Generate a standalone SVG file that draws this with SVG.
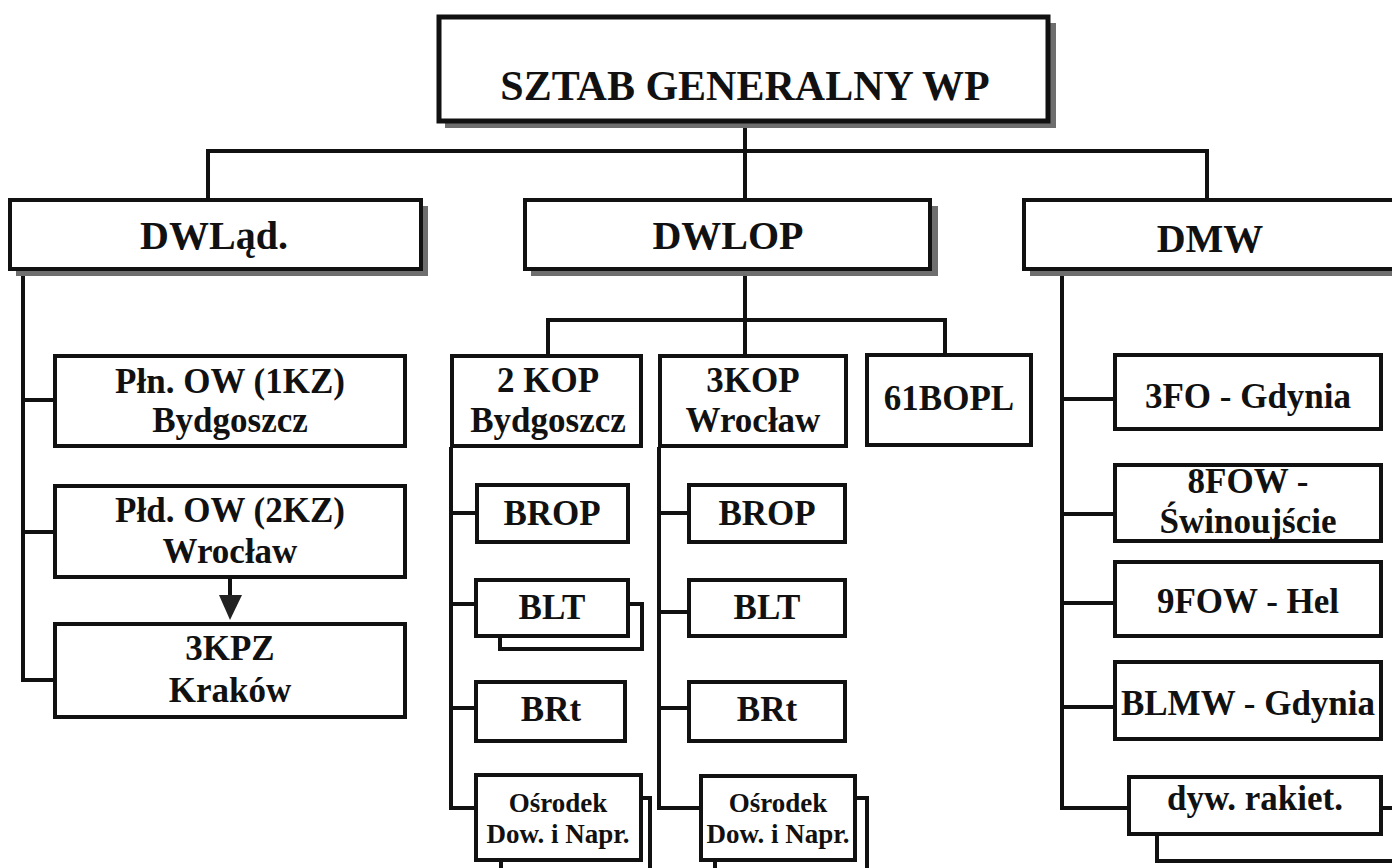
<svg xmlns="http://www.w3.org/2000/svg" width="1392" height="868" viewBox="0 0 1392 868">
<defs>
<style>
.bx{fill:#fff;stroke:#111;stroke-width:4}
.bxt{fill:#fff;stroke:#111;stroke-width:5}
.sh{fill:#6e6e6e}
.ln{fill:none;stroke:#111;stroke-width:4}
text{font-weight:bold;fill:#111;text-anchor:middle}
.t1{font-size:42px}
.t2{font-size:40px}
.t3{font-size:35px}
.t4{font-size:27px}
</style>
</defs>
<rect width="1392" height="868" fill="#fff"/>
<g id="connectors">
<path class="ln" d="M745,123 V198 M208,198 V151 H1207 V198"/>
<path class="ln" d="M23,270 V680 H53 M23,400 H53 M23,532 H53"/>
<path class="ln" d="M230,578 V597"/>
<polygon points="219,595 242,595 230,620" fill="#222"/>
<path class="ln" d="M745,270 V354 M548,354 V320 H945 V354"/>
<path class="ln" d="M451,447 V808 H474 M451,513 H475 M451,604 H474 M451,708 H474"/>
<path class="ln" d="M659,447 V808 H699 M659,513 H687 M659,612 H687 M659,708 H687"/>
<path class="ln" d="M1062,270 V808 H1127 M1062,399 H1113 M1062,514 H1113 M1062,603 H1113 M1062,707 H1113"/>
</g>
<g font-family="'Liberation Serif', 'Times New Roman', Tinos, 'DejaVu Serif', serif">
<g id="sztab">
<rect class="sh" x="445" y="23" width="611" height="105"/>
<rect class="bxt" x="439" y="17" width="609" height="104"/>
<text class="t1" x="745" y="100">SZTAB GENERALNY WP</text>
</g>
<g id="dwlad">
<rect class="sh" x="16" y="206" width="412" height="70"/>
<rect class="bx" x="10" y="200" width="411" height="69"/>
<text class="t2" x="214" y="249">DWLąd.</text>
</g>
<g id="dwlop">
<rect class="sh" x="531" y="206" width="407" height="70"/>
<rect class="bx" x="525" y="200" width="405" height="69"/>
<text class="t2" x="728" y="249">DWLOP</text>
</g>
<g id="dmw">
<rect class="sh" x="1030" y="206" width="400" height="70"/>
<rect class="bx" x="1024" y="200" width="400" height="69"/>
<text class="t2" x="1210" y="252">DMW</text>
</g>
<g id="pln">
<rect class="bx" x="55" y="356" width="350" height="90"/>
<text class="t3" x="230" y="393">Płn. OW (1KZ)</text>
<text class="t3" x="230" y="432">Bydgoszcz</text>
</g>
<g id="pld">
<rect class="bx" x="55" y="486" width="350" height="91"/>
<text class="t3" x="230" y="522">Płd. OW (2KZ)</text>
<text class="t3" x="230" y="563">Wrocław</text>
</g>
<g id="kpz3">
<rect class="bx" x="55" y="624" width="350" height="93"/>
<text class="t3" x="230" y="660">3KPZ</text>
<text class="t3" x="230" y="702">Kraków</text>
</g>
<g id="kop2">
<rect class="bx" x="452" y="356" width="189" height="90"/>
<text class="t3" x="548" y="392">2 KOP</text>
<text class="t3" x="548" y="432">Bydgoszcz</text>
</g>
<g id="kop3">
<rect class="bx" x="660" y="356" width="186" height="90"/>
<text class="t3" x="753" y="392">3KOP</text>
<text class="t3" x="753" y="432">Wrocław</text>
</g>
<g id="bopl61">
<rect class="bx" x="867" y="355" width="164" height="90"/>
<text class="t3" x="949" y="410">61BOPL</text>
</g>
<g id="brop2">
<rect class="bx" x="477" y="485" width="151" height="57"/>
<text class="t3" x="552" y="525">BROP</text>
</g>
<g id="blt2">
<rect class="bx" x="500" y="604" width="142" height="45"/>
<rect class="bx" x="476" y="580" width="152" height="56"/>
<text class="t3" x="552" y="619">BLT</text>
</g>
<g id="brt2">
<rect class="bx" x="476" y="682" width="149" height="59"/>
<text class="t3" x="551" y="721">BRt</text>
</g>
<g id="osr2">
<rect class="bx" x="501" y="798" width="149" height="100"/>
<rect class="bx" x="476" y="775" width="165" height="85"/>
<text class="t4" x="558" y="812">Ośrodek</text>
<text class="t4" x="558" y="843">Dow. i Napr.</text>
</g>
<g id="brop3">
<rect class="bx" x="689" y="485" width="156" height="57"/>
<text class="t3" x="767" y="525">BROP</text>
</g>
<g id="blt3">
<rect class="bx" x="689" y="580" width="156" height="56"/>
<text class="t3" x="767" y="619">BLT</text>
</g>
<g id="brt3">
<rect class="bx" x="689" y="682" width="156" height="59"/>
<text class="t3" x="767" y="721">BRt</text>
</g>
<g id="osr3">
<rect class="bx" x="715" y="798" width="152" height="100"/>
<rect class="bx" x="701" y="776" width="154" height="84"/>
<text class="t4" x="778" y="812">Ośrodek</text>
<text class="t4" x="778" y="843">Dow. i Napr.</text>
</g>
<g id="fo3">
<rect class="bx" x="1115" y="355" width="266" height="74"/>
<text class="t3" x="1248" y="408">3FO - Gdynia</text>
</g>
<g id="fow8">
<rect class="bx" x="1115" y="465" width="266" height="76"/>
<text class="t3" x="1248" y="493">8FOW -</text>
<text class="t3" x="1248" y="533">Świnoujście</text>
</g>
<g id="fow9">
<rect class="bx" x="1115" y="562" width="266" height="74"/>
<text class="t3" x="1248" y="613">9FOW - Hel</text>
</g>
<g id="blmw">
<rect class="bx" x="1115" y="662" width="266" height="77"/>
<text class="t3" x="1248" y="715">BLMW - Gdynia</text>
</g>
<g id="dyw">
<rect class="bx" x="1157" y="808" width="260" height="53"/>
<rect class="bx" x="1129" y="777" width="252" height="57"/>
<text class="t3" x="1255" y="810">dyw. rakiet.</text>
</g>
</g>
</svg>
